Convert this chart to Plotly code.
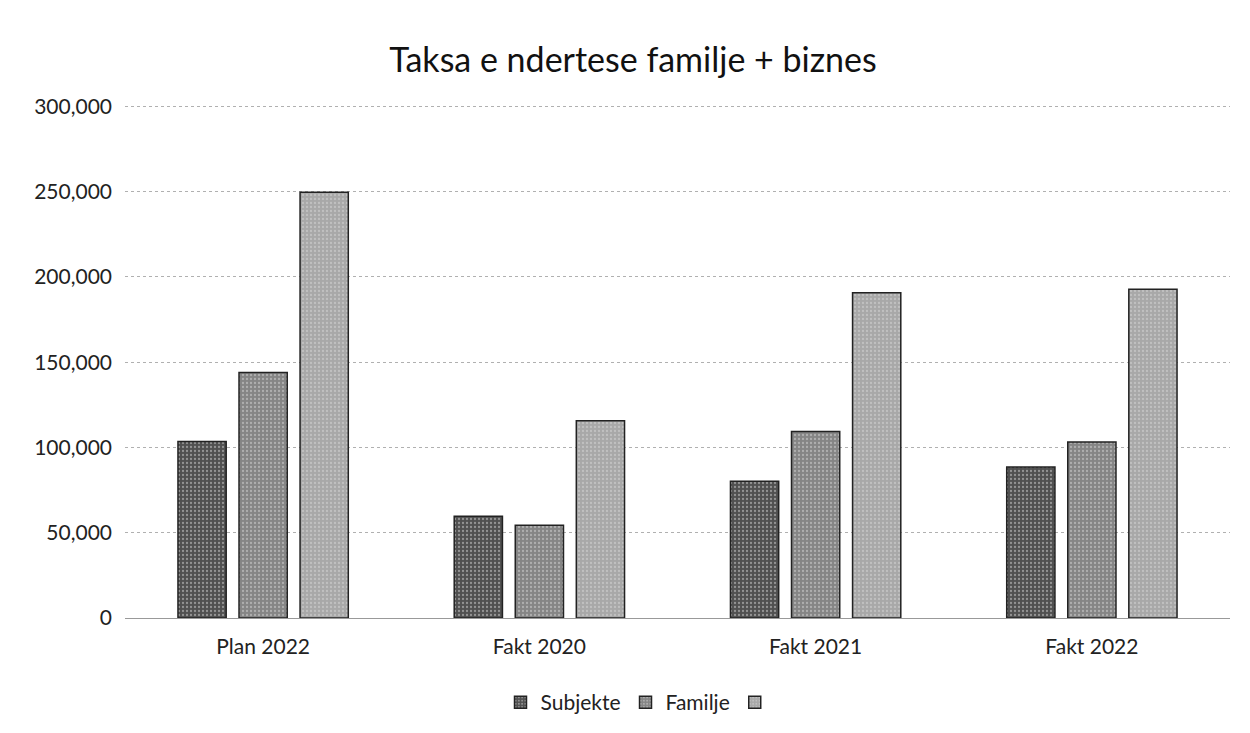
import plotly.graph_objects as go

categories = ["Plan 2022", "Fakt 2020", "Fakt 2021", "Fakt 2022"]
subjekte = [103500, 59700, 80200, 88600]
familje = [144000, 54400, 109300, 103200]
total = [249700, 115600, 190700, 192800]
series_names = ["Subjekte", "Familje", " "]
tick_vals = [0, 50000, 100000, 150000, 200000, 250000, 300000]
tick_text = ["0", "50,000", "100,000", "150,000", "200,000", "250,000", "300,000"]

colors = ["#505050", "#858585", "#a8a8a8"]

fig = go.Figure()
for name, vals, col in zip(series_names, [subjekte, familje, total], colors):
    fig.add_trace(go.Bar(
        x=categories, y=vals, name=name,
        marker=dict(color=col, line=dict(color="#222222", width=1.5),
                    pattern=dict(shape=".", fgcolor="#d8d8d8", size=4, solidity=0.25)),
    ))

fig.update_layout(
    width=1250, height=733,
    paper_bgcolor="white", plot_bgcolor="white",
    barmode="group", bargap=0.337, bargroupgap=0.21,
    margin=dict(l=117, r=28, t=97, b=123, autoexpand=False),
    title=dict(text="Taksa e ndertese familje + biznes", x=0.5, xanchor="center",
               y=0.929, yanchor="middle",
               font=dict(family="Lato, Open Sans, sans-serif", size=34, color="#111111")),
    font=dict(family="Lato, Open Sans, sans-serif", size=21, color="#222222"),
    legend=dict(orientation="h", xref="container", x=0.508, xanchor="center",
                y=-0.125, yanchor="top", font=dict(size=21), itemwidth=30),
    showlegend=True,
)
fig.update_yaxes(range=[0, 300800], tickvals=tick_vals, ticktext=tick_text,
                 showgrid=True, gridcolor="#b0b0b0", gridwidth=1, griddash="dot",
                 zeroline=False, showline=False, ticks="", ticklabelstandoff=12)
fig.update_xaxes(showline=True, linecolor="#999999", linewidth=1, ticks="",
                 showgrid=False, ticklabelstandoff=10)

fig.write_html("out.html")
